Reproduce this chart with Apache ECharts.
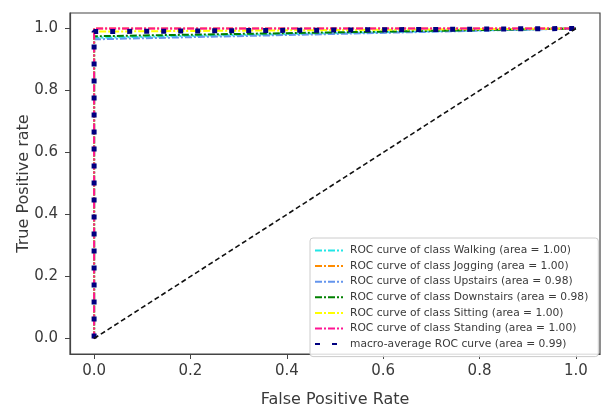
<!DOCTYPE html>
<html>
<head>
<meta charset="utf-8">
<script src="https://cdn.jsdelivr.net/npm/echarts@6/dist/echarts.min.js"></script>
<style>
  html, body { margin: 0; padding: 0; background: #fff; }
  #main { width: 606px; height: 410px; }
</style>
</head>
<body>
<div id="main"></div>
<script>
// tick labels
var tickValues = [0.0, 0.2, 0.4, 0.6, 0.8, 1.0];

// class names and their areas
var classNames = ['Walking', 'Jogging', 'Upstairs', 'Downstairs', 'Sitting', 'Standing'];
var classAreas = ['1.00', '1.00', '0.98', '0.98', '1.00', '1.00'];
var classColors = ['#22e6e6', '#ff8c00', '#6495ed', '#008000', '#ffff00', '#ff1493'];

// ROC points (fpr, tpr)
var fprWalking = [0, 0, 1];
var tprWalking = [0, 0.97, 1];
var fprJogging = [0, 0, 1];
var tprJogging = [0, 1.0, 1];
var fprUpstairs = [0, 0, 1];
var tprUpstairs = [0, 0.965, 1];
var fprDownstairs = [0, 0, 1];
var tprDownstairs = [0, 0.975, 1];
var fprSitting = [0, 0, 1];
var tprSitting = [0, 0.99, 1];
var fprStanding = [0, 0, 1];
var tprStanding = [0, 1.0, 1];

var fprMacro = [0, 0, 1];
var tprMacro = [0, 0.99, 1];
var macroArea = '0.99';

var fprChance = [0, 1];
var tprChance = [0, 1];

function pairs(xs, ys) {
    var out = [];
    for (var i = 0; i < xs.length; i++) {
        out.push([xs[i], ys[i]]);
    }
    return out;
}

var classFpr = [fprWalking, fprJogging, fprUpstairs, fprDownstairs, fprSitting, fprStanding];
var classTpr = [tprWalking, tprJogging, tprUpstairs, tprDownstairs, tprSitting, tprStanding];

var series = [];
var legendNames = [];
for (var k = 0; k < classNames.length; k++) {
    var name = 'ROC curve of class ' + classNames[k] + ' (area = ' + classAreas[k] + ')';
    legendNames.push(name);
    series.push({
        name: name,
        type: 'line',
        symbol: 'none',
        data: pairs(classFpr[k], classTpr[k]),
        lineStyle: { color: classColors[k], width: 2, type: [7, 2, 2, 2] },
        itemStyle: { color: classColors[k] },
        z: 2 + k
    });
}
var macroName = 'macro-average ROC curve (area = ' + macroArea + ')';
legendNames.push(macroName);
series.push({
    name: macroName,
    type: 'line',
    symbol: 'none',
    data: pairs(fprMacro, tprMacro),
    lineStyle: { color: '#000080', width: 5, type: [5, 12], cap: 'butt' },
    itemStyle: { color: '#000080' },
    z: 10
});
series.push({
    name: 'chance',
    type: 'line',
    symbol: 'none',
    data: pairs(fprChance, tprChance),
    lineStyle: { color: '#111', width: 1.6, type: [5, 3] },
    z: 11
});

var font = 'DejaVu Sans';
var axisColor = '#444';
var textColor = '#3a3a3a';
var option = {
    animation: false,
    backgroundColor: '#fff',
    textStyle: { fontFamily: font },
    grid: {
        left: 70, right: 6, top: 13, bottom: 56,
        outerBoundsMode: 'none',
        show: true, borderColor: axisColor, borderWidth: 1.2, backgroundColor: '#fff'
    },
    legend: {
        orient: 'vertical',
        left: 310, top: 238,
        data: legendNames,
        itemWidth: 28, itemHeight: 10, itemGap: 4.6,
        padding: [7, 10, 7, 4],
        itemStyle: { opacity: 0 },
        backgroundColor: 'rgba(255,255,255,0.85)',
        borderColor: '#ccc', borderWidth: 1, borderRadius: 3,
        textStyle: { fontFamily: font, fontSize: 10.7, color: textColor, lineHeight: 11, padding: [0, 0, 0, 2] }
    },
    xAxis: {
        type: 'value',
        min: -0.05, max: 1.05,
        name: 'False Positive Rate',
        nameLocation: 'middle', nameGap: 38,
        nameMoveOverlap: false,
        nameTextStyle: { fontFamily: font, fontSize: 16, color: textColor },
        splitLine: { show: false },
        axisLine: { onZero: false, lineStyle: { color: axisColor, width: 1.2 } },
        axisTick: { show: true, length: 5, customValues: tickValues, lineStyle: { color: axisColor } },
        axisLabel: {
            customValues: tickValues, fontSize: 15, color: textColor, margin: 10,
            formatter: function (v) { return v.toFixed(1); }
        }
    },
    yAxis: {
        type: 'value',
        min: -0.05, max: 1.05,
        name: 'True Positive rate',
        nameLocation: 'middle', nameGap: 38,
        nameMoveOverlap: false,
        nameTextStyle: { fontFamily: font, fontSize: 16, color: textColor },
        splitLine: { show: false },
        axisLine: { show: true, onZero: false, lineStyle: { color: axisColor, width: 1.2 } },
        axisTick: { show: true, length: 5, customValues: tickValues, lineStyle: { color: axisColor } },
        axisLabel: {
            customValues: tickValues, fontSize: 15, color: textColor, margin: 12,
            formatter: function (v) { return v.toFixed(1); }
        }
    },
    series: series
};

var myChart = echarts.init(document.getElementById('main'));
myChart.setOption(option);
</script>
</body>
</html>
